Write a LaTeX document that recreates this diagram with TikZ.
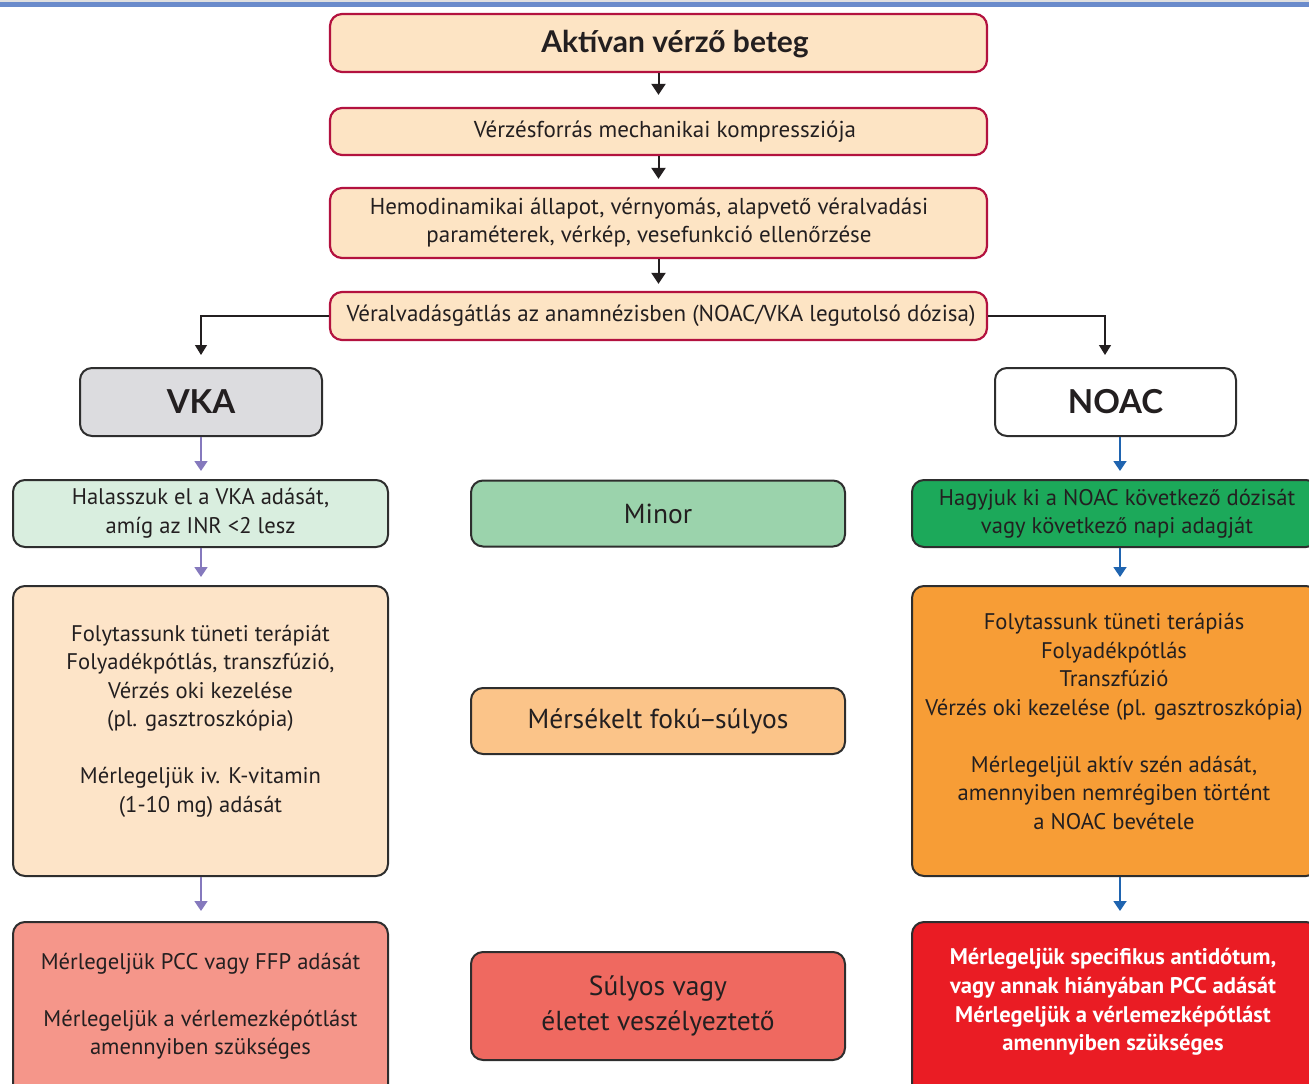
\documentclass[tikz,border=0pt]{standalone}
\usepackage{fontspec}
\setmainfont{PT Sans}
\newfontfamily\headfont{Lato}
\usetikzlibrary{arrows.meta,calc}

\definecolor{band}{HTML}{6A8BCB}
\definecolor{crimson}{HTML}{B3123F}
\definecolor{peach}{HTML}{FDE4C4}
\definecolor{edge}{HTML}{2E2E2E}
\definecolor{ink}{HTML}{231F20}
\definecolor{vkagray}{HTML}{DCDCDF}
\definecolor{mint}{HTML}{D9EEDF}
\definecolor{minorgreen}{HTML}{9BD3AC}
\definecolor{noacgreen}{HTML}{1CA95A}
\definecolor{lightpeach}{HTML}{FDE4C8}
\definecolor{apricot}{HTML}{FBC489}
\definecolor{orangebox}{HTML}{F79D36}
\definecolor{salmon}{HTML}{F5968A}
\definecolor{coral}{HTML}{EF6960}
\definecolor{redbox}{HTML}{EA1C24}
\definecolor{vkaarrow}{HTML}{8579BD}
\definecolor{noacarrow}{HTML}{1F64B0}

\tikzset{
  topbox/.style={draw=crimson, line width=2.2pt, fill=peach, rounded corners=12pt,
    minimum width=657pt, inner sep=0pt},
  toptext/.style={text=ink, align=center, inner sep=0pt,
    font=\fontsize{23}{28}\selectfont},
  flowbox/.style={draw=edge, line width=2pt, rounded corners=12pt, inner sep=0pt,
    text=ink, align=center},
  bodytext/.style={text=ink, align=center, inner sep=0pt,
    font=\fontsize{22.6}{28.5}\selectfont},
  midtext/.style={text=ink, align=center, inner sep=0pt,
    font=\fontsize{27.5}{35}\selectfont},
  headtext/.style={font=\headfont\bfseries\fontsize{33}{36}\selectfont},
  toparrow/.style={draw=ink, line width=2pt, -{Triangle[width=14pt,length=11pt]}},
  branch/.style={draw=ink, line width=1.3pt, -{Triangle[width=12pt,length=10pt]}},
  vkaflow/.style={draw=vkaarrow, line width=1.8pt, -{Triangle[width=13pt,length=10pt]}},
  noacflow/.style={draw=noacarrow, line width=1.8pt, -{Triangle[width=13pt,length=10pt]}},
}

\begin{document}
\begin{tikzpicture}[x=1pt, y=-1pt]
\useasboundingbox (0,0) rectangle (1309,1084);
\clip (0,0) rectangle (1309,1084);

% header band
\fill[black!12] (0,0) rectangle (1309,2);
\fill[band] (0,2) rectangle (1309,7);

% main column
\node[topbox, minimum height=58pt] (active) at (658.5,43) {};
\node[toptext, font=\headfont\bfseries\fontsize{30}{34}\selectfont] (activet) at (675,44)
  {Aktívan vérző beteg};
\node[topbox, minimum height=47pt] (compress) at (658.5,131.5) {};
\node[toptext] (compresst) at (665,131.5) {Vérzésforrás mechanikai kompressziója};
\node[topbox, minimum height=70pt] (check) at (658.5,223) {};
\node[toptext] (checkt) at (649,223)
  {Hemodinamikai állapot, vérnyomás, alapvető véralvadási\\paraméterek, vérkép, vesefunkció ellenőrzése};
\node[topbox, minimum height=48pt] (history) at (658.5,316) {};
\node[toptext] (historyt) at (661,316)
  {Véralvadásgátlás az anamnézisben (NOAC/VKA legutolsó dózisa)};

\draw[toparrow] (active.south) -- ([yshift=12pt]compress.north);
\draw[toparrow] (compress.south) -- ([yshift=8pt]check.north);
\draw[toparrow] (check.south) -- ([yshift=7pt]history.north);

% drug branches
\node[flowbox, fill=vkagray, minimum width=242pt, minimum height=68pt, headtext]
  (vka) at (201,402) {VKA};
\node[flowbox, fill=white, minimum width=241pt, minimum height=68pt, headtext]
  (noac) at (1115.5,402) {NOAC};

\coordinate (vkaturn) at (201,316);
\coordinate (noacturn) at (1105,316);
\draw[branch] (history.west) -- (vkaturn) -- ([yshift=12pt]vka.north);
\draw[branch] (history.east) -- (noacturn) -- ([yshift=12pt]noac.north -| noacturn);

% severity column
\node[flowbox, fill=minorgreen, minimum width=374pt, minimum height=66pt, midtext]
  (minor) at (658,513.5) {Minor};
\node[flowbox, fill=apricot, minimum width=374pt, minimum height=66pt, midtext]
  (moderate) at (658,721) {Mérsékelt fokú\kern-2pt–\kern-2pt súlyos};
\node[flowbox, fill=coral, minimum width=374pt, minimum height=108pt, midtext]
  (severe) at (658,1006) {Súlyos vagy\\életet veszélyeztető};

% VKA column
\node[flowbox, fill=mint, minimum width=375pt, minimum height=67pt] (vka1) at (200.5,513.5) {};
\node[bodytext] (vka1t) at (vka1.center) {Halasszuk el a VKA adását,\\amíg az INR <2 lesz};
\node[flowbox, fill=lightpeach, minimum width=375pt, minimum height=290pt] (vka2) at (200.5,731) {};
\node[bodytext] (vka2t) at (200.5,721)
  {Folytassunk tüneti terápiát\\Folyadékpótlás, transzfúzió,\\Vérzés oki kezelése\\(pl. gasztroszkópia)\\[28.5pt]Mérlegeljük iv. K-vitamin\\(1-10 mg) adását};
\node[flowbox, fill=salmon, minimum width=375pt, minimum height=180pt] (vka3) at (200.5,1012) {};
\node[bodytext] (vka3t) at (200.5,1006)
  {Mérlegeljük PCC vagy FFP adását\\[28.5pt]Mérlegeljük a vérlemezképótlást\\amennyiben szükséges};

\draw[vkaflow] (vka.south) -- ([yshift=8pt]vka1.north -| vka.south);
\draw[vkaflow] (vka1.south -| vka.south) -- ([yshift=8pt]vka2.north -| vka.south);
\draw[vkaflow] (vka2.south -| vka.south) -- ([yshift=10pt]vka3.north -| vka.south);

% NOAC column
\node[flowbox, fill=noacgreen, minimum width=406pt, minimum height=67pt] (noac1) at (1115,513.5) {};
\node[bodytext] (noac1t) at (1117,514) {Hagyjuk ki a NOAC következő dózisát\\vagy következő napi adagját};
\node[flowbox, fill=orangebox, minimum width=406pt, minimum height=290pt] (noac2) at (1115,731) {};
\node[bodytext] (noac2t) at (1114,721.5)
  {Folytassunk tüneti terápiás\\Folyadékpótlás\\Transzfúzió\\Vérzés oki kezelése (pl. gasztroszkópia)\\[28.5pt]Mérlegeljül aktív szén adását,\\amennyiben nemrégiben történt\\a NOAC bevétele};
\node[flowbox, fill=redbox, minimum width=406pt, minimum height=180pt] (noac3) at (1115,1012) {};
\node[bodytext, text=white, font=\bfseries\fontsize{22.6}{28.7}\selectfont] (noac3t) at (1113,1002)
  {Mérlegeljük specifikus antidótum,\\vagy annak hiányában PCC adását\\Mérlegeljük a vérlemezképótlást\\amennyiben szükséges};

\coordinate (noaccol) at (1120,0);
\draw[noacflow] (noac.south -| noaccol) -- ([yshift=8pt]noac1.north -| noaccol);
\draw[noacflow] (noac1.south -| noaccol) -- ([yshift=8pt]noac2.north -| noaccol);
\draw[noacflow] (noac2.south -| noaccol) -- ([yshift=10pt]noac3.north -| noaccol);
\end{tikzpicture}
\end{document}
